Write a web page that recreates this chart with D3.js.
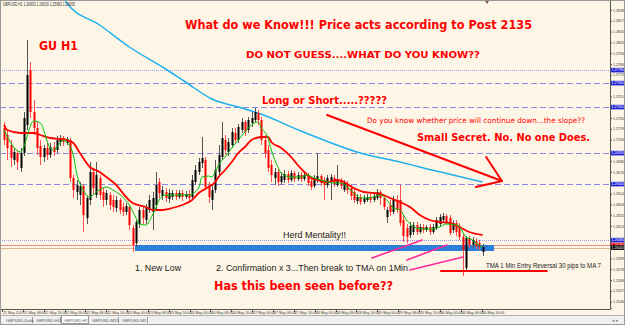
<!DOCTYPE html>
<html><head><meta charset="utf-8">
<script src="https://cdn.jsdelivr.net/npm/d3@7"></script>
<style>body{margin:0;background:#fff}svg{display:block}</style>
</head><body>
<svg id="c" width="625" height="325"></svg>
<script>
// ---------- DATA ----------
const opens=[1.2720,1.2713,1.2703,1.2688,1.2695,1.2680,1.2695,1.2723,1.2778,1.2736,
1.2720,1.2702,1.2691,1.2700,1.2693,1.2701,1.2698,1.2706,1.2710,1.2705,
1.2708,1.2670,1.2656,1.2653,1.2662,1.2630,1.2648,1.2676,1.2653,1.2670,
1.2656,1.2648,1.2653,1.2648,1.2640,1.2648,1.2641,1.2636,1.2641,1.2620,
1.2605,1.2624,1.2638,1.2628,1.2638,1.2636,1.2643,1.2666,1.2652,1.2656,
1.2649,1.2651,1.2655,1.2651,1.2655,1.2651,1.2654,1.2651,1.2666,1.2676,
1.2685,1.2688,1.2663,1.2648,1.2658,1.2676,1.2691,1.2708,1.2696,1.2703,
1.2715,1.2708,1.2718,1.2726,1.2718,1.2725,1.2728,1.2735,1.2728,1.2708,
1.2698,1.2683,1.2670,1.2676,1.2666,1.2668,1.2674,1.2668,1.2675,1.2669,
1.2673,1.2669,1.2672,1.2667,1.2662,1.2668,1.2672,1.2668,1.2663,1.2666,
1.2670,1.2663,1.2668,1.2658,1.2664,1.2660,1.2656,1.2647,1.2651,1.2646,
1.2648,1.2651,1.2648,1.2650,1.2656,1.2650,1.2631,1.2643,1.2636,1.2648,
1.2648,1.2628,1.2620,1.2613,1.2616,1.2623,1.2616,1.2621,1.2618,1.2621,
1.2616,1.2620,1.2624,1.2628,1.2632,1.2630,1.2618,1.2625,1.2622,1.2611,
1.2580,1.2610,1.2603,1.2607,1.2605,1.2596];
const closes=[1.2708,1.2700,1.2690,1.2696,1.2686,1.2695,1.2730,1.2773,1.2736,1.2720,
1.2700,1.2691,1.2700,1.2693,1.2701,1.2696,1.2708,1.2710,1.2706,1.2709,
1.2670,1.2658,1.2663,1.2662,1.2633,1.2650,1.2676,1.2660,1.2673,1.2653,
1.2648,1.2655,1.2643,1.2641,1.2648,1.2638,1.2636,1.2642,1.2623,1.2603,
1.2626,1.2638,1.2630,1.2640,1.2648,1.2650,1.2663,1.2655,1.2658,1.2650,
1.2655,1.2655,1.2651,1.2655,1.2651,1.2654,1.2650,1.2668,1.2678,1.2686,
1.2690,1.2661,1.2651,1.2658,1.2678,1.2693,1.2710,1.2698,1.2706,1.2716,
1.2708,1.2721,1.2726,1.2716,1.2728,1.2730,1.2736,1.2728,1.2708,1.2695,
1.2680,1.2673,1.2676,1.2666,1.2672,1.2674,1.2668,1.2675,1.2669,1.2673,
1.2669,1.2673,1.2665,1.2661,1.2670,1.2672,1.2665,1.2663,1.2670,1.2671,
1.2664,1.2668,1.2662,1.2665,1.2658,1.2652,1.2648,1.2651,1.2646,1.2650,
1.2651,1.2648,1.2652,1.2656,1.2650,1.2641,1.2638,1.2636,1.2648,1.2638,
1.2625,1.2612,1.2611,1.2622,1.2623,1.2616,1.2621,1.2618,1.2621,1.2616,
1.2621,1.2628,1.2631,1.2632,1.2626,1.2615,1.2625,1.2616,1.2611,1.2598,
1.2610,1.2603,1.2608,1.2602,1.2601,1.2601];
const highs=[1.2726,1.2718,1.2708,1.2700,1.2698,1.2700,1.2736,1.2808,1.2786,1.2748,
1.2726,1.2708,1.2703,1.2705,1.2705,1.2706,1.2712,1.2713,1.2712,1.2711,
1.2710,1.2673,1.2668,1.2666,1.2664,1.2652,1.2686,1.2680,1.2686,1.2673,
1.2660,1.2658,1.2656,1.2653,1.2652,1.2650,1.2645,1.2645,1.2643,1.2623,
1.2628,1.2641,1.2642,1.2644,1.2653,1.2656,1.2676,1.2670,1.2662,1.2660,
1.2659,1.2658,1.2658,1.2658,1.2658,1.2657,1.2658,1.2673,1.2683,1.2690,
1.2711,1.2691,1.2666,1.2663,1.2688,1.2703,1.2726,1.2713,1.2710,1.2720,
1.2720,1.2724,1.2730,1.2728,1.2731,1.2736,1.2740,1.2738,1.2731,1.2713,
1.2703,1.2688,1.2680,1.2679,1.2676,1.2678,1.2677,1.2678,1.2677,1.2676,
1.2676,1.2676,1.2675,1.2670,1.2673,1.2695,1.2674,1.2671,1.2673,1.2674,
1.2673,1.2683,1.2670,1.2668,1.2667,1.2663,1.2659,1.2654,1.2654,1.2653,
1.2654,1.2654,1.2655,1.2659,1.2658,1.2653,1.2641,1.2648,1.2652,1.2653,
1.2663,1.2633,1.2624,1.2626,1.2626,1.2626,1.2624,1.2624,1.2623,1.2624,
1.2624,1.2631,1.2634,1.2635,1.2634,1.2633,1.2628,1.2628,1.2625,1.2614,
1.2612,1.2612,1.2611,1.2610,1.2608,1.2604];
const lows=[1.2703,1.2688,1.2681,1.2683,1.2678,1.2676,1.2692,1.2718,1.2730,1.2713,
1.2693,1.2683,1.2686,1.2688,1.2690,1.2692,1.2695,1.2702,1.2702,1.2703,
1.2666,1.2650,1.2648,1.2643,1.2616,1.2624,1.2643,1.2653,1.2650,1.2648,
1.2641,1.2643,1.2638,1.2636,1.2636,1.2634,1.2632,1.2633,1.2618,1.2596,
1.2601,1.2620,1.2624,1.2624,1.2635,1.2618,1.2638,1.2650,1.2648,1.2646,
1.2645,1.2648,1.2648,1.2649,1.2647,1.2649,1.2646,1.2648,1.2663,1.2673,
1.2680,1.2658,1.2645,1.2638,1.2655,1.2673,1.2688,1.2693,1.2692,1.2700,
1.2705,1.2705,1.2715,1.2712,1.2715,1.2721,1.2725,1.2723,1.2703,1.2690,
1.2676,1.2666,1.2663,1.2662,1.2663,1.2665,1.2665,1.2666,1.2666,1.2667,
1.2666,1.2667,1.2662,1.2658,1.2660,1.2665,1.2662,1.2648,1.2660,1.2648,
1.2661,1.2661,1.2659,1.2656,1.2654,1.2648,1.2645,1.2644,1.2643,1.2644,
1.2646,1.2645,1.2646,1.2648,1.2643,1.2638,1.2625,1.2632,1.2634,1.2635,
1.2622,1.2606,1.2605,1.2610,1.2613,1.2613,1.2614,1.2615,1.2616,1.2613,
1.2614,1.2618,1.2621,1.2625,1.2624,1.2613,1.2615,1.2612,1.2608,1.2572,
1.2578,1.2600,1.2600,1.2599,1.2598,1.2592];

// moving averages: [bar index, price]
const maFast=[[0,1.2718],[5,1.2696],[9,1.2727],[11,1.2725],[14,1.2700],[15,1.2698],[18,1.2708],[19,1.2706],
[21,1.2693],[22,1.2675],[24,1.2658],[26,1.2651],[28,1.2656],[31,1.2661],[33,1.2658],[36,1.2651],[38,1.2643],
[40,1.2630],[41,1.2624],[43,1.2623],[45,1.2633],[46,1.2640],[47,1.2648],[49,1.2653],[52,1.2653],[56,1.2653],
[59,1.2660],[60,1.2671],[62,1.2672],[63,1.2671],[64,1.2676],[65,1.2683],[67,1.2691],[69,1.2700],[71,1.2708],
[73,1.2716],[75,1.2723],[77,1.2726],[78,1.2720],[80,1.2710],[81,1.2698],[83,1.2681],[84,1.2675],[87,1.2671],
[90,1.2671],[92,1.2673],[94,1.2670],[96,1.2668],[98,1.2666],[100,1.2665],[102,1.2665],[104,1.2661],[106,1.2655],
[108,1.2650],[110,1.2650],[112,1.2651],[114,1.2653],[116,1.2648],[118,1.2640],[120,1.2638],[122,1.2628],
[125,1.2620],[127,1.2619],[130,1.2619],[132,1.2621],[134,1.2624],[137,1.2623],[138,1.2621],[139,1.2616],
[140,1.2611],[142,1.2608],[143,1.2605],[145,1.2601]];
const maSlow=[[0,1.2723],[1,1.2718],[5,1.2715],[9,1.2715],[11,1.2713],[14,1.2710],[17,1.2709],[19,1.2708],
[21,1.2705],[23,1.2695],[26,1.2681],[29,1.2676],[31,1.2671],[34,1.2663],[37,1.2651],[39,1.2645],[43,1.2641],
[45,1.2638],[48,1.2638],[51,1.2640],[54,1.2643],[57,1.2648],[59,1.2655],[62,1.2661],[64,1.2666],[65,1.2671],
[67,1.2678],[69,1.2686],[71,1.2695],[73,1.2701],[75,1.2708],[78,1.2711],[80,1.2711],[81,1.2706],[84,1.2700],
[87,1.2691],[89,1.2683],[91,1.2676],[93,1.2670],[95,1.2668],[98,1.2666],[101,1.2668],[103,1.2666],[106,1.2660],
[109,1.2656],[112,1.2655],[115,1.2653],[117,1.2650],[120,1.2646],[123,1.2641],[126,1.2633],[129,1.2628],
[132,1.2626],[135,1.2625],[138,1.2621],[141,1.2616],[145,1.2613]];
const ma200=[[17,1.2858],[19,1.2845],[29,1.2823],[38,1.2801],[49,1.2779],[55,1.2766],[63,1.2749],[71,1.2741],
[77,1.2735],[90,1.2717],[108,1.2695],[120,1.2686],[126,1.2681],[145,1.2666]];

const dashedLevels=[1.2765,1.2741,1.2695,1.2664];
const dottedLevels=[1.2778,1.2608];
const redLevel=1.2603, tanLevel=1.2600, lastPrice=1.26005;
const priceTicks=[1.28380,1.28272,1.28164,1.28056,1.27948,1.27840,1.27732,1.27624,1.27516,1.27408,1.27300,
1.27192,1.27084,1.26976,1.26868,1.26760,1.26652,1.26544,1.26436,1.26328,1.26220,1.26112,1.26004,1.25896,
1.25788,1.25680,1.25572,1.25464];
const dateLabels=["21 May 2019","21 May 08:00","21 May 16:00","22 May 00:00","22 May 08:00","22 May 16:00",
"23 May 00:00","23 May 08:00","23 May 16:00","24 May 00:00","24 May 08:00","24 May 16:00","27 May 00:00",
"27 May 08:00","27 May 16:00","28 May 00:00","28 May 08:00","28 May 16:00","29 May 00:00","29 May 08:00",
"29 May 16:00","30 May 00:00","30 May 08:00","30 May 16:00"];
const tabs=["GBPUSD,Daily","GBPUSD,H4","GBPUSD,H1","GBPUSD,M15","GBPUSD,M5"];

// ---------- LAYOUT ----------
const W=625,H=325, plotR=610, plotB=309;
const svg=d3.select("#c");
const x=d3.scaleLinear().domain([0,145]).range([4,482.5]);
const y=d3.scaleLinear().domain([1.2540,1.2848]).range([308,0]);
const FONT="'Liberation Sans',Arial,sans-serif";

svg.append("rect").attr("width",W).attr("height",H).attr("fill","#fdf6e7");
svg.append("defs").append("clipPath").attr("id","pc").append("rect")
  .attr("x",0).attr("y",0).attr("width",plotR).attr("height",plotB);
const g=svg.append("g").attr("clip-path","url(#pc)");

const hl=(p,col,dash,w)=>g.append("line").attr("x1",0).attr("x2",plotR)
  .attr("y1",Math.round(y(p))+0.5).attr("y2",Math.round(y(p))+0.5)
  .attr("stroke",col).attr("stroke-width",w||1).attr("stroke-dasharray",dash||null);
dottedLevels.forEach(p=>hl(p,"#9a9af5","1,1"));
dashedLevels.forEach(p=>hl(p,"#8a8ae6","6,3"));
hl(redLevel,"#f08a8a");
hl(tanLevel,"#d8b892");

// blue zone
g.append("rect").attr("x",x(39.7)).attr("width",x(148.5)-x(39.7))
  .attr("y",y(1.2603)).attr("height",y(1.2597)-y(1.2603)).attr("fill","#2a7fd8");

// 200 MA
const line=d3.line().x(d=>x(d[0])).y(d=>y(d[1])).curve(d3.curveMonotoneX);
g.append("path").datum(ma200).attr("d",line).attr("fill","none").attr("stroke","#1fb0ee").attr("stroke-width",1.5);

// candles
const idx=d3.range(opens.length);
const cg=g.append("g");
idx.forEach(i=>{
  const bull=closes[i]>=opens[i];
  const cx=Math.round(x(i));
  cg.append("line").attr("x1",cx+0.5).attr("x2",cx+0.5).attr("y1",y(highs[i])).attr("y2",y(lows[i]))
    .attr("stroke",bull?"#555":"#ff5050").attr("stroke-width",1);
  const top=y(Math.max(opens[i],closes[i])), bot=y(Math.min(opens[i],closes[i]));
  cg.append("rect").attr("x",cx-0.5).attr("width",2).attr("y",top).attr("height",Math.max(1,bot-top))
    .attr("fill",bull?"#000":"#ff0000");
});

g.append("path").datum(maSlow).attr("d",line).attr("fill","none").attr("stroke","#ff0000").attr("stroke-width",1.8);
g.append("path").datum(maFast).attr("d",line).attr("fill","none").attr("stroke","#00c000").attr("stroke-width",1);

// annotation lines (in data space)
const seg=(a,b,col,w)=>g.append("line").attr("x1",x(a[0])).attr("y1",y(a[1])).attr("x2",x(b[0])).attr("y2",y(b[1]))
  .attr("stroke",col).attr("stroke-width",w).attr("stroke-linecap","round");
seg([97.9,1.2733],[150.9,1.2667],"#ff0000",2);
seg([146.1,1.2691],[150.9,1.2667],"#ff0000",2);
seg([143.0,1.2661],[150.9,1.2667],"#ff0000",2);
seg([132.4,1.2577],[164.5,1.2577],"#ff0000",2);
seg([111.5,1.2590],[126.7,1.2608],"#ff2a9a",1.6);
seg([122.1,1.2588],[134.2,1.2603],"#ff2a9a",1.6);
seg([123.0,1.2578],[139.1,1.2591],"#ff2a9a",1.6);

// texts
const txt=(s,tx,ty,size,len,opt)=>{opt=opt||{};
  return svg.append("text").attr("x",tx).attr("y",ty).text(s)
   .attr("font-family",opt.font||"'DejaVu Sans',Verdana,sans-serif")
   .attr("font-weight",opt.bold===false?"normal":"bold")
   .attr("font-size",size).attr("fill",opt.fill||"#ff0000")
   .attr("textLength",len).attr("lengthAdjust","spacingAndGlyphs");};
txt("What do we Know!!! Price acts according to Post 2135",185,28.5,11.5,347);
txt("GU H1",39,49.5,12,39);
txt("DO NOT GUESS....WHAT DO YOU KNOW??",246,57.5,9.5,234);
txt("Long or Short.....?????",262,103.5,10,125);
txt("Do you know whether price will continue down...the slope??",367,122.5,7.5,218,{bold:false,font:"'DejaVu Sans',sans-serif"});
txt("Small Secret. No. No one Does.",417,141,11,173);
txt("Has this been seen before??",214,290,11.5,179);
const dark={bold:false,fill:"#1a1a1a",font:FONT};
txt("Herd Mentality!!",283,237.5,8.5,63,dark);
txt("1. New Low",135,270.5,8.5,46,dark);
txt("2. Confirmation x 3...Then break to TMA on 1Min",216,271,8.5,192,dark);
txt("TMA 1 Min Entry Reversal 30 pips to MA 7",486,268,6.5,115,dark);
txt("GBPUSD,H1  1.26003 1.26019 1.25983 1.26005",3,6,4.5,72,{bold:false,fill:"#333",font:FONT});

// shift marker
svg.append("path").attr("d","M485,1 L489,1 L487,4 Z").attr("fill","#7a5a3a");

// right axis
const tagLevels=[...dottedLevels,...dashedLevels,redLevel,lastPrice];
const shownTicks=priceTicks.filter(t=>tagLevels.every(p=>Math.abs(y(p)-y(t))>4.5));
const ax=svg.append("g").attr("transform",`translate(${plotR},0)`)
  .call(d3.axisRight(y).tickValues(shownTicks).tickFormat(d3.format(".5f")).tickSize(2).tickPadding(1));
ax.select(".domain").attr("stroke","#555");
ax.selectAll(".tick line").attr("stroke","#555");
ax.selectAll(".tick text").attr("font-size",3.5).attr("font-family",FONT).attr("fill","#333");
const tag=(p,bg,fg)=>{const yy=y(p);
  svg.append("rect").attr("x",plotR+1).attr("y",yy-2.2).attr("width",13.5).attr("height",4.6).attr("fill",bg);
  svg.append("text").attr("x",plotR+1.6).attr("y",yy+1.3).text(d3.format(".5f")(p))
    .attr("font-size",3.5).attr("font-family",FONT).attr("fill",fg);};
[...dottedLevels,...dashedLevels].forEach(p=>tag(p,"#2323d8","#fff"));
tag(redLevel,"#e00000","#fff");
tag(lastPrice,"#000","#fff");

// bottom axis
svg.append("line").attr("x1",0).attr("x2",plotR+0.5).attr("y1",plotB+0.5).attr("y2",plotB+0.5).attr("stroke","#555");
const xd=d3.scaleLinear().domain([0,dateLabels.length-1]).range([2,481.5]);
dateLabels.forEach((s,k)=>{
  svg.append("line").attr("x1",Math.round(xd(k))+0.5).attr("x2",Math.round(xd(k))+0.5)
    .attr("y1",plotB).attr("y2",plotB+3).attr("stroke","#555");
  svg.append("text").attr("x",xd(k)+1).attr("y",313.8).text(s).attr("font-size",3.6)
    .attr("font-family",FONT).attr("fill","#333");
});

// tab bar
svg.append("rect").attr("x",0).attr("y",315).attr("width",W).attr("height",10).attr("fill","#f0f0f0");
svg.append("line").attr("x1",0).attr("x2",W).attr("y1",315.5).attr("y2",315.5).attr("stroke","#b0b0b0");
const tx0=[3,33,61,89,119], tw=[29,27,27,29,28];
tabs.forEach((s,k)=>{
  if(k===2){svg.append("rect").attr("x",tx0[k]+0.5).attr("y",315.5).attr("width",tw[k]).attr("height",8).attr("fill","#fff").attr("stroke","#999");}
  else svg.append("line").attr("x1",tx0[k]+tw[k]+0.5).attr("x2",tx0[k]+tw[k]+0.5).attr("y1",317).attr("y2",323).attr("stroke","#999");
  svg.append("text").attr("x",tx0[k]+3).attr("y",321.5).text(s).attr("font-size",4.1)
    .attr("font-family",FONT).attr("fill","#555");
});
svg.append("text").attr("x",612).attr("y",322).text("◂ ▸").attr("font-size",5).attr("fill","#888");
svg.append("rect").attr("x",0.5).attr("y",0.5).attr("width",W-1).attr("height",H-1).attr("fill","none").attr("stroke","#999");
</script>
</body></html>
